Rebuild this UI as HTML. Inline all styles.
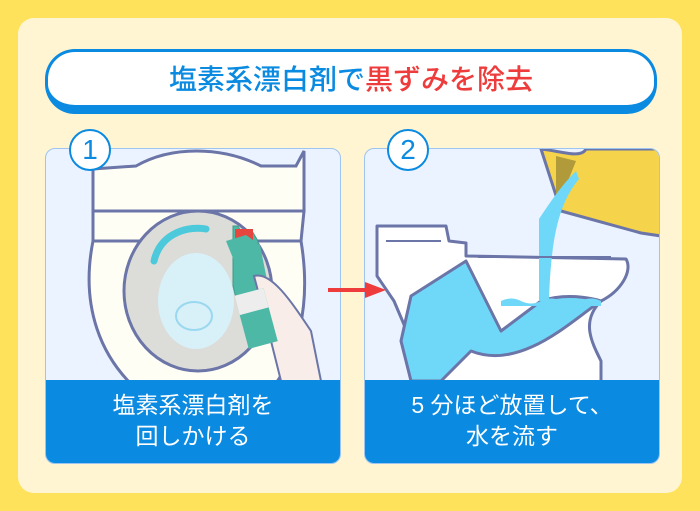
<!DOCTYPE html>
<html><head><meta charset="utf-8"><style>
body{margin:0;width:700px;height:511px;background:#FFE25B;position:relative;overflow:hidden;font-family:"Liberation Sans","Noto Sans CJK JP",sans-serif}
.inner{position:absolute;left:18px;top:18px;width:664px;height:475px;background:#FFF5D2;border-radius:16px}
.pill{position:absolute;left:45px;top:49px;width:606px;height:53px;background:#fff;border:3px solid #0A8AE0;border-bottom-width:9px;border-radius:30px;text-align:center;line-height:56px;font-size:28px;color:#0A8AE0;font-weight:500}
.pill span{color:#EE3B3B}
.panel{position:absolute;top:148px;width:294px;height:314px;background:#EAF3FF;border:1px solid #9EC4F0;border-radius:10px;overflow:hidden}
.cap{position:absolute;left:0;bottom:0;width:100%;height:83px;background:#0A8AE0;color:#fff;font-size:23px;text-align:center;line-height:31px;padding-top:10px;box-sizing:border-box}
.num{position:absolute;width:38px;height:38px;border:2px solid #0A8AE0;border-radius:50%;background:#fff;color:#0A8AE0;font-size:28px;text-align:center;line-height:38px}
svg{position:absolute;left:0;top:0}
</style></head><body>
<div class="inner"></div>
<div class="pill">塩素系漂白剤で<span>黒ずみを除去</span></div>
<div class="panel" style="left:45px">
<svg width="294" height="314" viewBox="45 148 294 314">
<g stroke="#6B75A8" stroke-width="3">
<path d="M92 240 C80 300 95 360 150 400 L260 400 C300 360 310 300 300 240Z" fill="#FFFEF5"/>
<path d="M92 160 L92 210 L303 210 L303 150 L295 165 L260 165 C220 145 170 145 135 165 L92 168Z" fill="#FFFEF5"/>
<path d="M92 210 L92 240 L300 240 L303 210Z" fill="#FFFEF5"/>
<ellipse cx="197" cy="290" rx="74" ry="80" fill="#DCDCD8"/>
</g>
<ellipse cx="195" cy="300" rx="38" ry="48" fill="#D8F0F8"/>
<ellipse cx="193" cy="315" rx="18" ry="14" fill="none" stroke="#9AD8F0" stroke-width="2"/>
<path d="M153 260 C160 230 190 225 205 228" stroke="#4CC9DA" stroke-width="7" fill="none" stroke-linecap="round"/>
<path d="M232 225 l5 0 l8 15 l0 -10 l6 0 l6 10 l0 80 l-12 0 l0 -15 l-8 0 l-5 -20Z" fill="#4DB8A6" stroke="#3E9A88" stroke-width="1"/>
<rect x="234" y="228" width="18" height="12" fill="#E6463E"/>
<path d="M225 240 l20 -6 l14 10 l10 50 l-20 5Z" fill="#4DB8A6"/>
<path d="M253 275 C270 270 290 300 310 330 L320 380 L280 380 L265 320Z" fill="#F8EDE8" stroke="#6B75A8" stroke-width="2"/>
<rect x="240" y="290" width="30" height="55" fill="#4DB8A6" transform="rotate(-15 255 317)"/>
<rect x="240" y="290" width="30" height="20" fill="#EDEDED" transform="rotate(-15 255 317)"/>
</svg>
<div class="cap">塩素系漂白剤を<br>回しかける</div>
</div>
<div class="panel" style="left:364px">
<svg width="294" height="314" viewBox="364 148 294 314">
<g stroke="#6B75A8" stroke-width="3" stroke-linejoin="round">
<path d="M376 225 L445 225 L448 240 L465 242 L465 255 L625 258 C632 270 620 290 600 300 C580 320 590 340 600 360 L600 400 L410 400 L410 340 L393 300 L376 275Z" fill="#fff"/>
<path d="M410 295 L465 260 L500 330 L540 300 C570 290 600 300 600 300 C570 320 520 370 470 350 L440 380 L410 380 L400 340Z" fill="#6FD8F8"/>
<path d="M540 148 C560 150 580 158 585 148 L660 148 L660 235 L640 232 L560 210Z" fill="#F5D34A"/>
</g>
<path d="M555 155 L575 160 L555 210Z" fill="#B09A3A"/>
<path d="M538 218 C550 200 560 185 575 170 L578 178 C560 200 550 230 548 300 L538 300Z" fill="#6FD8F8"/>
<line x1="385" y1="240" x2="440" y2="240" stroke="#6B75A8" stroke-width="2"/>
<line x1="477" y1="256" x2="610" y2="256" stroke="#6B75A8" stroke-width="2"/>
<path d="M500 300 q10 -5 20 0 q10 5 20 0 q10 -5 20 0 q10 5 20 0 q10 -5 20 0 L600 305 L500 305Z" fill="#6FD8F8"/>
</svg>
<div class="cap">5 分ほど放置して、<br>水を流す</div>
</div>
<div class="num" style="left:69px;top:129px">1</div>
<div class="num" style="left:387px;top:129px">2</div>
<svg width="700" height="511"><path d="M328 288 L365 288 L365 282 L386 290 L365 298 L365 292 L328 292Z" fill="#EE3B3B"/></svg>
</body></html>
